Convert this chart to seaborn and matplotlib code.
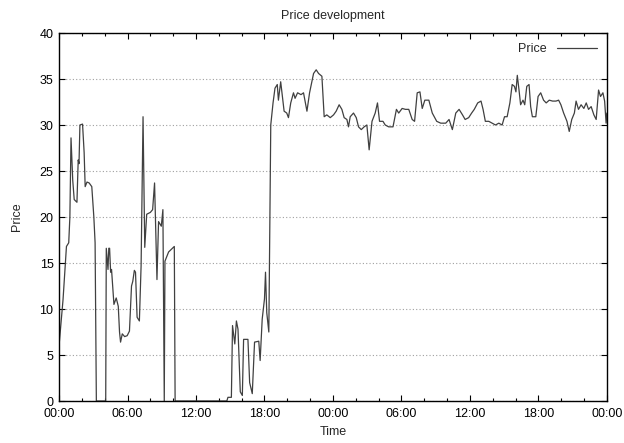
import matplotlib
matplotlib.use('Agg')
import matplotlib.pyplot as plt
import seaborn as sns
import pandas as pd
from matplotlib.ticker import MultipleLocator

# Hours since the first midnight
hours = [
    0.0, 0.35, 0.65, 0.85, 0.95, 1.05, 1.2, 1.33, 1.57, 1.68, 1.75, 1.83, 2.06, 2.2, 2.29,
    2.45, 2.64, 2.87, 3.05, 3.16, 3.27, 4.09, 4.14, 4.29, 4.36, 4.43, 4.52, 4.6, 4.81,
    5.01, 5.19, 5.3, 5.39, 5.54, 5.75, 5.97, 6.17, 6.35, 6.46, 6.6, 6.7, 6.84, 7.04,
    7.19, 7.36, 7.51, 7.68, 8.0, 8.2, 8.37, 8.58, 8.72, 8.96, 9.1, 9.22, 9.28, 9.6,
    10.1, 10.17, 14.7, 14.8, 15.1, 15.2, 15.4, 15.54, 15.68, 15.88, 16.06, 16.17,
    16.55, 16.7, 16.93, 17.13, 17.5, 17.62, 17.8, 18.0, 18.09, 18.2, 18.38, 18.55,
    18.75, 18.92, 19.12, 19.22, 19.42, 19.72, 19.95, 20.1, 20.3, 20.54, 20.68, 20.9,
    21.2, 21.42, 21.72, 21.95, 22.15, 22.3, 22.53, 22.74, 23.03, 23.23, 23.46, 23.76,
    24.05, 24.28, 24.54, 24.78, 24.98, 25.22, 25.36, 25.51, 25.8, 26.04, 26.24, 26.48,
    26.73, 26.97, 27.17, 27.42, 27.7, 27.9, 28.08, 28.38, 28.58, 28.88, 29.26, 29.56,
    29.76, 30.06, 30.35, 30.64, 30.94, 31.15, 31.38, 31.62, 31.82, 32.05, 32.4, 32.7,
    33.09, 33.44, 33.88, 34.17, 34.46, 34.76, 35.05, 35.35, 35.58, 35.89, 36.15, 36.38,
    36.68, 36.97, 37.15, 37.35, 37.65, 37.94, 38.24, 38.53, 38.82, 39.03, 39.26, 39.5,
    39.7, 39.9, 40.03, 40.15, 40.3, 40.44, 40.65, 40.8, 40.98, 41.18, 41.32, 41.47,
    41.77, 41.97, 42.2, 42.45, 42.68, 42.95, 43.24, 43.54, 43.77, 43.97, 44.21, 44.5,
    44.7, 44.92, 45.15, 45.3, 45.51, 45.74, 45.98, 46.19, 46.39, 46.62, 46.86, 47.06,
    47.27, 47.44, 47.65, 47.8, 47.93, 48.0,
]

prices = [
    6.0, 11.0, 16.8, 17.2, 20.0, 28.6, 24.0, 21.9, 21.6, 26.2, 25.8, 30.0, 30.1, 27.0, 23.3,
    23.8, 23.7, 23.3, 20.0, 17.2, 0.0, 0.0, 16.6, 14.3, 16.6, 16.6, 14.0, 14.3, 10.5,
    11.2, 10.3, 7.5, 6.4, 7.3, 7.0, 7.1, 7.6, 12.5, 13.0, 14.2, 14.0, 9.1, 8.7,
    14.7, 30.9, 16.7, 20.3, 20.5, 20.8, 23.7, 13.2, 19.5, 19.0, 20.8, 0.0, 15.2, 16.2,
    16.8, 0.0, 0.0, 0.4, 0.4, 8.2, 6.2, 8.7, 7.8, 1.0, 0.6, 6.7,
    6.7, 2.0, 0.8, 6.4, 6.5, 4.4, 8.9, 11.1, 14.0, 9.6, 7.5, 30.0,
    32.4, 34.0, 34.4, 32.7, 34.7, 31.5, 31.3, 30.8, 32.4, 33.5, 32.9, 33.5,
    33.3, 33.5, 31.5, 33.5, 34.7, 35.6, 36.0, 35.6, 35.3, 30.9, 31.1, 30.8,
    31.1, 31.5, 32.2, 31.7, 30.8, 30.6, 29.8, 30.9, 31.3, 30.8, 29.8, 29.5,
    29.8, 30.0, 27.3, 30.4, 31.3, 32.4, 30.4, 30.4, 30.0, 29.8, 29.8, 31.7,
    31.3, 31.8, 31.7, 31.7, 30.6, 30.4, 33.5, 33.6, 31.8, 32.7, 32.7, 31.3,
    30.4, 30.2, 30.2, 30.6, 29.5, 31.3, 31.7, 31.1, 30.6, 30.8, 31.3, 31.7,
    32.4, 32.6, 31.7, 30.4, 30.4, 30.2, 30.0, 30.2, 30.0, 30.9, 30.9, 32.4,
    34.4, 34.2, 33.6, 35.4, 33.8, 32.2, 32.7, 32.2, 34.2, 34.4, 32.0, 30.9,
    30.9, 33.1, 33.5, 32.7, 32.4, 32.7, 32.6, 32.6, 32.7, 32.2, 31.3, 30.4,
    29.3, 30.6, 31.3, 32.6, 31.7, 32.2, 31.8, 32.4, 31.7, 32.0, 31.1, 30.6,
    33.8, 33.1, 33.5, 32.6, 30.2, 31.3,
]

xtick_pos = [0, 6, 12, 18, 24, 30, 36, 42, 48]
xtick_labels = ['00:00', '06:00', '12:00', '18:00', '00:00', '06:00', '12:00', '18:00', '00:00']

df = pd.DataFrame({'Time': hours, 'Price': prices})

sns.set_style('ticks')
plt.rcParams['font.family'] = ['Liberation Sans', 'DejaVu Sans']
plt.rcParams['font.size'] = 9

fig = plt.figure(figsize=(6.24, 4.43), dpi=100)
ax = fig.add_axes([0.0946, 0.0948, 0.878, 0.8307])

sns.lineplot(data=df, x='Time', y='Price', ax=ax, color='#404040', linewidth=0.9,
             label='Price', estimator=None, sort=False)

ax.set_xlim(0, 48)
ax.set_ylim(0, 40)
ax.set_xticks(xtick_pos)
ax.set_xticklabels(xtick_labels)
ax.xaxis.set_minor_locator(MultipleLocator(2))
ax.set_yticks(range(0, 41, 5))

ax.yaxis.grid(True, linestyle=(0, (1, 2)), color='#a0a0a0', linewidth=0.8)
ax.xaxis.grid(False)

ax.tick_params(which='both', direction='in', top=True, right=True, colors='black',
               labelsize=9)
ax.tick_params(axis='x', pad=5)
ax.tick_params(axis='y', pad=4)
ax.tick_params(which='major', length=4, width=0.8)
ax.tick_params(which='minor', length=2.5, width=0.8)
for s in ax.spines.values():
    s.set_color('black')
    s.set_linewidth(1.0)

ax.set_title('Price development', fontsize=9, pad=10)
ax.set_xlabel('Time', fontsize=9, labelpad=4)
ax.set_ylabel('Price', fontsize=9, labelpad=12)

ax.legend(loc='upper right', frameon=False, markerfirst=False, fontsize=9,
          handlelength=3.2, borderaxespad=0.4)

fig.savefig('out.png', dpi=100)
